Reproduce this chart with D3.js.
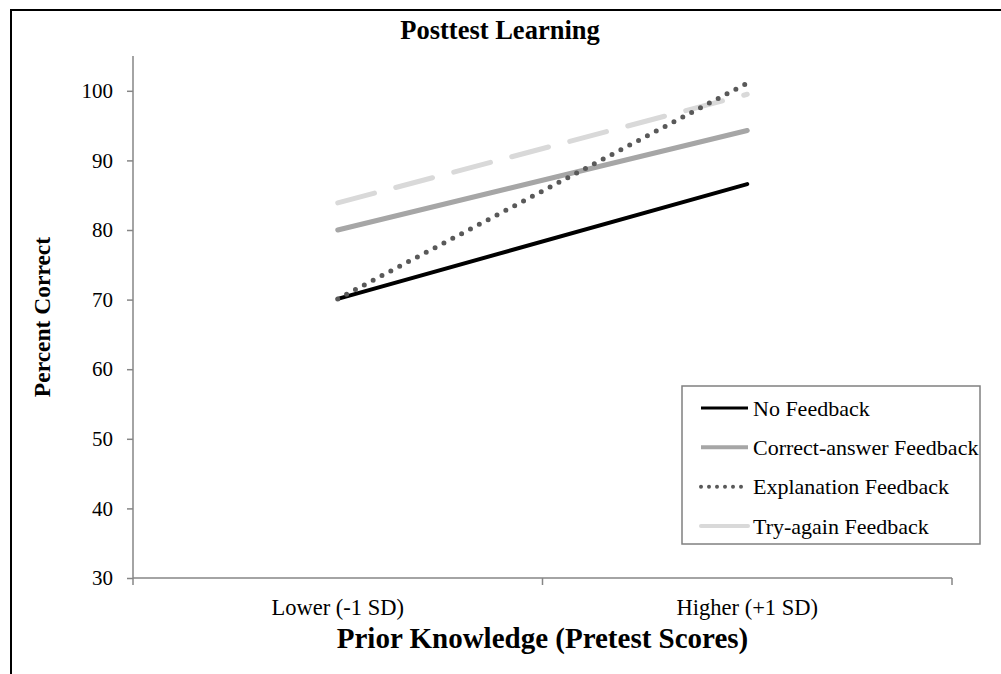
<!DOCTYPE html>
<html>
<head>
<meta charset="utf-8">
<script src="https://cdn.jsdelivr.net/npm/d3@7"></script>
<style>
  body { margin: 0; background: #fff; }
  svg { display: block; }
</style>
</head>
<body>
<div id="chart"></div>
<script>
const categories = ["Lower (-1 SD)", "Higher (+1 SD)"];
const seriesNames = ["No Feedback", "Correct-answer Feedback", "Explanation Feedback", "Try-again Feedback"];
const noFeedback = [70.1, 86.6];
const correctAnswer = [80.0, 94.3];
const explanation = [70.1, 101.1];
const tryAgain = [83.9, 99.5];
const yTicks = [30, 40, 50, 60, 70, 80, 90, 100];

const width = 1001;
const height = 674;
const margin = { top: 56, right: 49, bottom: 96, left: 133 };
const plotWidth = width - margin.left - margin.right;
const plotHeight = height - margin.top - margin.bottom;

const styles = [
  { color: "#000000", width: 4, dash: null },
  { color: "#a6a6a6", width: 5, dash: null },
  { color: "#595959", width: 5, dash: "0,10" },
  { color: "#d9d9d9", width: 5, dash: "38,22" }
];
const seriesData = [noFeedback, correctAnswer, explanation, tryAgain];

const svg = d3.select("#chart")
  .append("svg")
  .attr("width", width)
  .attr("height", height)
  .style("font-family", "'Liberation Serif', 'Times New Roman', serif");

// outer frame (only top and left edges fall inside the picture)
svg.append("path")
  .attr("d", `M11,${height} L11,10 L${width},10`)
  .attr("fill", "none")
  .attr("stroke", "#000")
  .attr("stroke-width", 2);

const g = svg.append("g")
  .attr("transform", `translate(${margin.left},${margin.top})`);

const xBand = d3.scaleBand()
  .domain(categories)
  .range([0, plotWidth]);

const yScale = d3.scaleLinear()
  .domain([30, 105])
  .range([plotHeight, 0]);

// y axis
const yAxis = d3.axisLeft(yScale)
  .tickValues(yTicks)
  .tickSize(6)
  .tickPadding(14);

const yG = g.append("g").call(yAxis);
yG.select(".domain").attr("stroke", "#868686").attr("stroke-width", 1.5).attr("d", `M0,${plotHeight}V0`);
yG.selectAll(".tick line").attr("stroke", "#868686").attr("stroke-width", 1.5);
yG.selectAll(".tick text")
  .attr("fill", "#000")
  .style("font-size", "21px")
  .style("font-family", "'Liberation Serif', serif");

// x axis with ticks at category boundaries
const xG = g.append("g").attr("transform", `translate(0,${plotHeight})`);
xG.append("line")
  .attr("x1", 0).attr("x2", plotWidth)
  .attr("stroke", "#868686").attr("stroke-width", 1.5);
const boundaries = categories.map(c => xBand(c)).concat([plotWidth]);
xG.selectAll(".bt")
  .data(boundaries)
  .join("line")
  .attr("x1", d => d).attr("x2", d => d)
  .attr("y1", 0).attr("y2", 7)
  .attr("stroke", "#868686").attr("stroke-width", 1.5);
xG.selectAll(".cl")
  .data(categories)
  .join("text")
  .attr("x", d => xBand(d) + xBand.bandwidth() / 2)
  .attr("y", 37)
  .attr("text-anchor", "middle")
  .style("font-size", "22.5px")
  .text(d => d);

// series lines
const line = d3.line()
  .x((d, i) => xBand(categories[i]) + xBand.bandwidth() / 2)
  .y(d => yScale(d));

const drawOrder = [0, 1, 3, 2];
drawOrder.forEach(k => {
  const s = styles[k];
  g.append("path")
    .datum(seriesData[k])
    .attr("d", line)
    .attr("fill", "none")
    .attr("stroke", s.color)
    .attr("stroke-width", s.width)
    .attr("stroke-linecap", "round")
    .attr("stroke-dasharray", s.dash);
});

// title
svg.append("text")
  .attr("x", 500)
  .attr("y", 39)
  .attr("text-anchor", "middle")
  .style("font-size", "26.5px")
  .style("font-weight", "bold")
  .text("Posttest Learning");

// axis titles
svg.append("text")
  .attr("transform", `translate(50,${margin.top + plotHeight / 2}) rotate(-90)`)
  .attr("text-anchor", "middle")
  .style("font-size", "23.5px")
  .style("font-weight", "bold")
  .text("Percent Correct");

svg.append("text")
  .attr("x", margin.left + plotWidth / 2)
  .attr("y", 648)
  .attr("text-anchor", "middle")
  .style("font-size", "29px")
  .style("font-weight", "bold")
  .text("Prior Knowledge (Pretest Scores)");

// legend
const legend = svg.append("g").attr("transform", "translate(682,386)");
legend.append("rect")
  .attr("width", 298)
  .attr("height", 158)
  .attr("fill", "#fff")
  .attr("stroke", "#808080")
  .attr("stroke-width", 1.5);

const rowY = d3.scalePoint()
  .domain(seriesNames)
  .range([22, 140]);

seriesNames.forEach((name, k) => {
  const s = styles[k];
  const y = rowY(name);
  legend.append("line")
    .attr("x1", 19).attr("x2", 66)
    .attr("y1", y).attr("y2", y)
    .attr("stroke", s.color)
    .attr("stroke-width", k === 0 ? 3 : 4)
    .attr("stroke-linecap", k >= 2 ? "round" : "butt")
    .attr("stroke-dasharray", k === 2 ? "0,8" : null);
  legend.append("text")
    .attr("x", 71)
    .attr("y", y)
    .attr("dy", "0.35em")
    .style("font-size", "22px")
    .text(name);
});
</script>
</body>
</html>
